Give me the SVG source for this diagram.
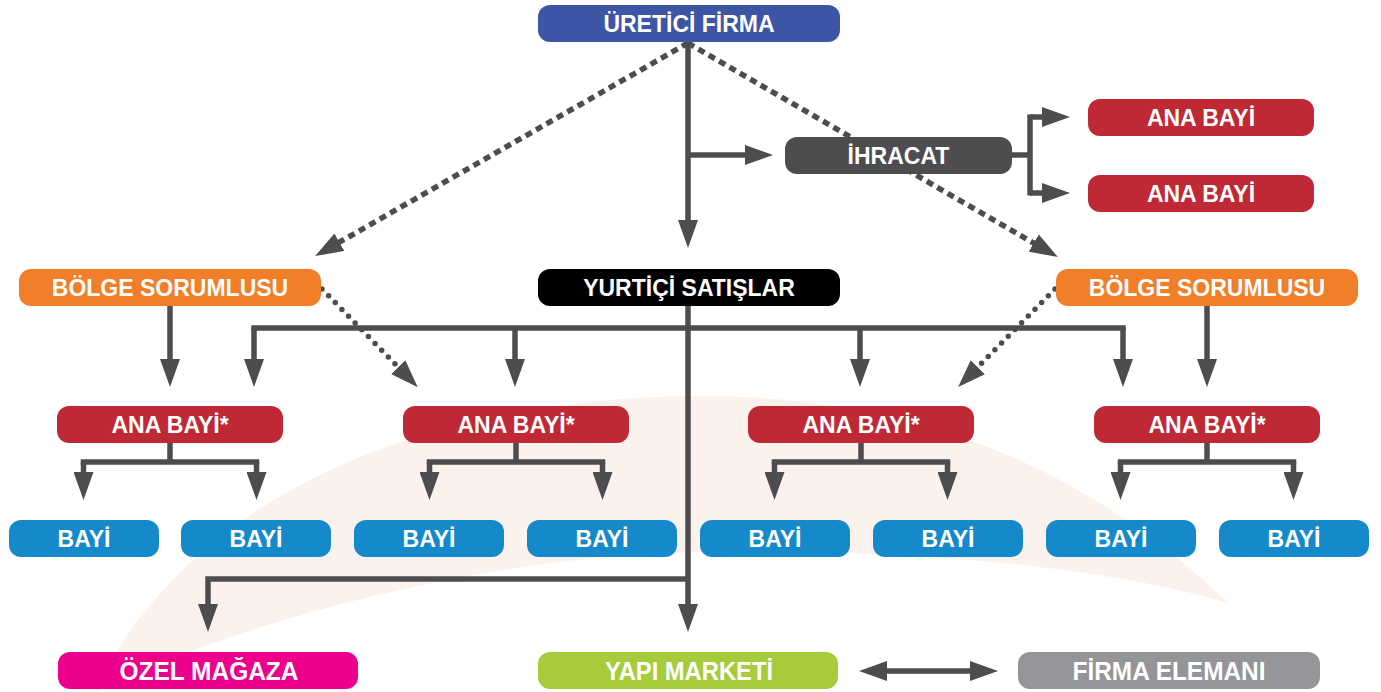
<svg xmlns="http://www.w3.org/2000/svg" width="1381" height="692" viewBox="0 0 1381 692">
  <style>
    .box { stroke: none; }
    .lbl { fill: #ffffff; font-family: "Liberation Sans", Arial, sans-serif; font-weight: bold; font-size: 23px; text-anchor: middle; }
    .lbl-n { fill: #ffffff; font-family: "Liberation Sans", Arial, sans-serif; font-weight: bold; font-size: 26px; text-anchor: middle; }
    .wire { fill: none; stroke: #4d4d4f; stroke-width: 5.5; }
    .arrow { marker-end: url(#head); }
    .dash { stroke-dasharray: 7 5; }
    .dot { stroke-dasharray: 0 9.5; stroke-linecap: round; }
  </style>
  <defs>
    <marker id="head" markerUnits="userSpaceOnUse" markerWidth="28" markerHeight="20" viewBox="0 0 28 20" refX="4" refY="10" orient="auto-start-reverse">
      <path d="M0,0 L28,10 L0,20 Z" fill="#4d4d4f"/>
    </marker>
  </defs>

  <rect width="1381" height="692" fill="#ffffff"/>

  <!-- soft background swoosh -->
  <path d="M95,692 C180,510 400,400 690,396 C930,393 1100,480 1228,603 C1100,565 900,548 690,552 C500,556 250,615 95,692 Z" fill="#fbf1ed"/>

  <!-- connectors -->
  <g id="connectors">
    <!-- from the manufacturer -->
    <path class="wire arrow" d="M688,42 V224"/>
    <path class="wire arrow" d="M688,155 H749"/>
    <path class="wire dash arrow" d="M688,43 L335.9,244.2"/>
    <path class="wire dash arrow" d="M688,43 L1037.2,245.1"/>
    <!-- export split -->
    <path class="wire" d="M1012,155 H1030"/>
    <path class="wire" d="M1030,114.5 V195.5"/>
    <path class="wire arrow" d="M1030,117 H1046"/>
    <path class="wire arrow" d="M1030,193 H1046"/>
    <!-- domestic sales bus -->
    <path class="wire" d="M251.25,328 H1125.75"/>
    <path class="wire arrow" d="M254,328 V363"/>
    <path class="wire arrow" d="M515,328 V363"/>
    <path class="wire arrow" d="M860,328 V363"/>
    <path class="wire arrow" d="M1123,328 V363"/>
    <path class="wire arrow" d="M688,306 V608"/>
    <path class="wire arrow" d="M688,579 H208 V608"/>
    <!-- regional managers -->
    <path class="wire arrow" d="M170,306 V363"/>
    <path class="wire arrow" d="M1207,306 V363"/>
    <path class="wire dot arrow" d="M322,289 L401,370"/>
    <path class="wire dot arrow" d="M1055,289 L975,370"/>
    <!-- main dealers to dealers -->
    <path class="wire" d="M170,443 V462 M80.75,462 H259.25"/>
    <path class="wire arrow" d="M83.5,462 V476"/>
    <path class="wire arrow" d="M256.5,462 V476"/>
    <path class="wire" d="M516,443 V462 M426.75,462 H605.25"/>
    <path class="wire arrow" d="M429.5,462 V476"/>
    <path class="wire arrow" d="M602.5,462 V476"/>
    <path class="wire" d="M861,443 V462 M771.75,462 H950.25"/>
    <path class="wire arrow" d="M774.5,462 V476"/>
    <path class="wire arrow" d="M947.5,462 V476"/>
    <path class="wire" d="M1207,443 V462 M1117.75,462 H1296.25"/>
    <path class="wire arrow" d="M1120.5,462 V476"/>
    <path class="wire arrow" d="M1293.5,462 V476"/>
    <!-- building market <-> company staff -->
    <path class="wire" d="M883,671 H974" marker-start="url(#head)" marker-end="url(#head)"/>
  </g>

  <g id="uretici">
    <rect class="box" x="538" y="5" width="302" height="37" rx="12" fill="#3c55a5"/>
    <text class="lbl" x="689" y="31.7">ÜRETİCİ FİRMA</text>
  </g>
  <g id="ihracat">
    <rect class="box" x="785" y="137" width="227" height="37" rx="12" fill="#4d4d4f"/>
    <text class="lbl" x="898.5" y="163.7">İHRACAT</text>
  </g>
  <g id="ihracat-anabayi-1">
    <rect class="box" x="1088" y="99" width="226" height="37" rx="12" fill="#be2935"/>
    <text class="lbl" x="1201" y="125.7">ANA BAYİ</text>
  </g>
  <g id="ihracat-anabayi-2">
    <rect class="box" x="1088" y="175" width="226" height="37" rx="12" fill="#be2935"/>
    <text class="lbl" x="1201" y="201.7">ANA BAYİ</text>
  </g>
  <g id="bolge-sol">
    <rect class="box" x="19" y="269" width="302" height="37" rx="12" fill="#f17e28"/>
    <text class="lbl" x="170" y="295.7">BÖLGE SORUMLUSU</text>
  </g>
  <g id="yurtici">
    <rect class="box" x="538" y="269" width="302" height="37" rx="12" fill="#000000"/>
    <text class="lbl" x="689" y="295.7">YURTİÇİ SATIŞLAR</text>
  </g>
  <g id="bolge-sag">
    <rect class="box" x="1056" y="269" width="302" height="37" rx="12" fill="#f17e28"/>
    <text class="lbl" x="1207" y="295.7">BÖLGE SORUMLUSU</text>
  </g>

  <g id="anabayi-1">
    <rect class="box" x="57" y="406" width="226" height="37" rx="12" fill="#be2935"/>
    <text class="lbl" x="170" y="432.7">ANA BAYİ*</text>
  </g>
  <g id="anabayi-2">
    <rect class="box" x="403" y="406" width="226" height="37" rx="12" fill="#be2935"/>
    <text class="lbl" x="516" y="432.7">ANA BAYİ*</text>
  </g>
  <g id="anabayi-3">
    <rect class="box" x="748" y="406" width="226" height="37" rx="12" fill="#be2935"/>
    <text class="lbl" x="861" y="432.7">ANA BAYİ*</text>
  </g>
  <g id="anabayi-4">
    <rect class="box" x="1094" y="406" width="226" height="37" rx="12" fill="#be2935"/>
    <text class="lbl" x="1207" y="432.7">ANA BAYİ*</text>
  </g>

  <g id="bayi-1"><rect class="box" x="9" y="520" width="150" height="37" rx="12" fill="#1589c9"/><text class="lbl" x="84" y="546.7">BAYİ</text></g>
  <g id="bayi-2"><rect class="box" x="181" y="520" width="150" height="37" rx="12" fill="#1589c9"/><text class="lbl" x="256" y="546.7">BAYİ</text></g>
  <g id="bayi-3"><rect class="box" x="354" y="520" width="150" height="37" rx="12" fill="#1589c9"/><text class="lbl" x="429" y="546.7">BAYİ</text></g>
  <g id="bayi-4"><rect class="box" x="527" y="520" width="150" height="37" rx="12" fill="#1589c9"/><text class="lbl" x="602" y="546.7">BAYİ</text></g>
  <g id="bayi-5"><rect class="box" x="700" y="520" width="150" height="37" rx="12" fill="#1589c9"/><text class="lbl" x="775" y="546.7">BAYİ</text></g>
  <g id="bayi-6"><rect class="box" x="873" y="520" width="150" height="37" rx="12" fill="#1589c9"/><text class="lbl" x="948" y="546.7">BAYİ</text></g>
  <g id="bayi-7"><rect class="box" x="1046" y="520" width="150" height="37" rx="12" fill="#1589c9"/><text class="lbl" x="1121" y="546.7">BAYİ</text></g>
  <g id="bayi-8"><rect class="box" x="1219" y="520" width="150" height="37" rx="12" fill="#1589c9"/><text class="lbl" x="1294" y="546.7">BAYİ</text></g>

  <g id="ozel-magaza">
    <rect class="box" x="58" y="652" width="300" height="37" rx="12" fill="#ec008c"/>
    <text class="lbl-n" x="209" y="680" textLength="179" lengthAdjust="spacingAndGlyphs">ÖZEL MAĞAZA</text>
  </g>
  <g id="yapi-marketi">
    <rect class="box" x="538" y="652" width="300" height="37" rx="12" fill="#a6cb3b"/>
    <text class="lbl-n" x="689" y="680" textLength="168" lengthAdjust="spacingAndGlyphs">YAPI MARKETİ</text>
  </g>
  <g id="firma-elemani">
    <rect class="box" x="1018" y="652" width="302" height="37" rx="12" fill="#939598"/>
    <text class="lbl-n" x="1169" y="680" textLength="193" lengthAdjust="spacingAndGlyphs">FİRMA ELEMANI</text>
  </g>
</svg>
